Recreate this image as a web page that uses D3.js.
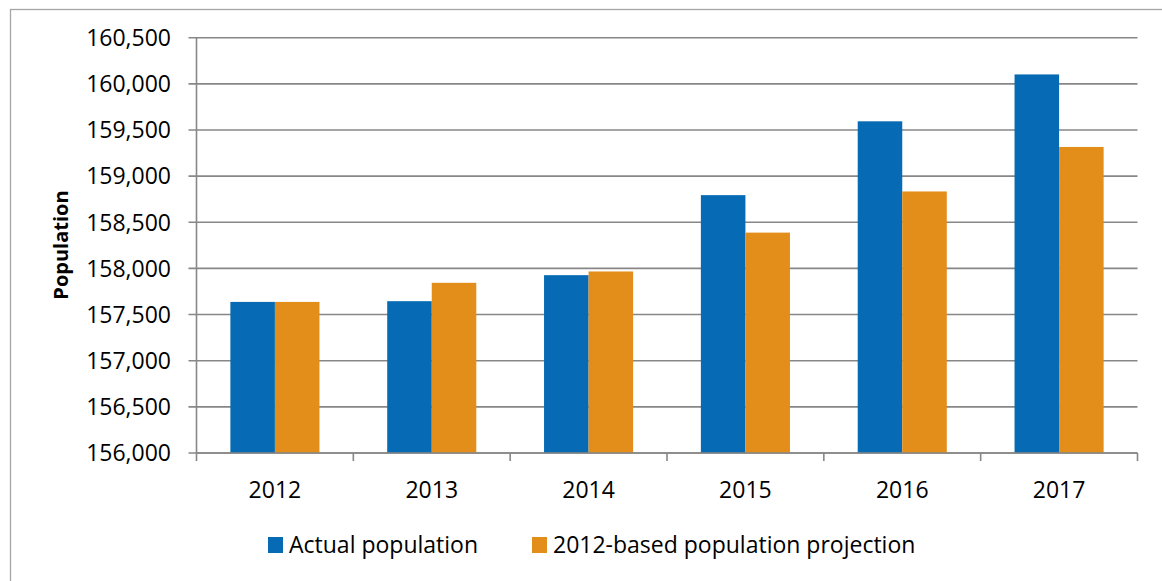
<!DOCTYPE html>
<html>
<head>
<meta charset="utf-8">
<script src="https://cdnjs.cloudflare.com/ajax/libs/d3/7.8.5/d3.min.js"></script>
<style>
	body { margin: 0; background: #fff; }
	svg text { font-family: "Open Sans", sans-serif; fill: #000; }
</style>
</head>
<body>
<div id="chart"></div>
<script>
// data
var years = ["2012", "2013", "2014", "2015", "2016", "2017"];
var actual = [157637, 157645, 157927, 158794, 159594, 160102];
var projection = [157637, 157844, 157967, 158388, 158834, 159316];
var seriesNames = ["Actual population", "2012-based population projection"];
var seriesColors = ["#066bb4", "#e38d1a"];
var yTicks = [156000, 156500, 157000, 157500, 158000, 158500, 159000, 159500, 160000, 160500];

var W = 1162, H = 581;
var plotLeft = 196.5, plotRight = 1137.5, plotTop = 37.7, plotBottom = 453;

var svg = d3.select("#chart").append("svg")
	.attr("width", W)
	.attr("height", H);

// outer frame (only top and left visible)
svg.append("rect")
	.attr("x", 10.5).attr("y", 9.5)
	.attr("width", W + 20).attr("height", H + 20)
	.attr("fill", "none")
	.attr("stroke", "#a6a6a6")
	.attr("stroke-width", 1.3);

var x = d3.scaleBand().domain(years).range([plotLeft, plotRight]).padding(0);
var y = d3.scaleLinear().domain([156000, 160500]).range([plotBottom, plotTop]);

// gridlines
svg.append("g")
	.selectAll("line")
	.data(yTicks)
	.join("line")
	.attr("x1", plotLeft - 8).attr("x2", plotRight)
	.attr("y1", d => y(d)).attr("y2", d => y(d))
	.attr("stroke", "#878787")
	.attr("stroke-width", 1.6);

// y labels
svg.append("g")
	.selectAll("text")
	.data(yTicks)
	.join("text")
	.attr("x", 171)
	.attr("y", d => y(d))
	.attr("dy", "0.36em")
	.attr("text-anchor", "end")
	.style("font-size", "23px")
	.text(d => d3.format(",")(d));

// bars
var barW = x.bandwidth() * 0.284;
var groups = svg.append("g")
	.selectAll("g")
	.data(years)
	.join("g")
	.attr("transform", d => "translate(" + (x(d) + x.bandwidth() / 2) + ",0)");

groups.append("rect")
	.attr("x", -barW)
	.attr("width", barW)
	.attr("y", (d, i) => y(actual[i]))
	.attr("height", (d, i) => plotBottom - y(actual[i]))
	.attr("fill", seriesColors[0]);

groups.append("rect")
	.attr("x", 0)
	.attr("width", barW)
	.attr("y", (d, i) => y(projection[i]))
	.attr("height", (d, i) => plotBottom - y(projection[i]))
	.attr("fill", seriesColors[1]);

// axes lines
svg.append("line")
	.attr("x1", plotLeft).attr("x2", plotLeft)
	.attr("y1", plotTop).attr("y2", plotBottom)
	.attr("stroke", "#878787").attr("stroke-width", 1.6);
svg.append("line")
	.attr("x1", plotLeft).attr("x2", plotRight)
	.attr("y1", plotBottom).attr("y2", plotBottom)
	.attr("stroke", "#878787").attr("stroke-width", 1.6);

// x ticks
var xt = years.map(d => x(d)).concat([plotRight]);
svg.append("g")
	.selectAll("line")
	.data(xt)
	.join("line")
	.attr("x1", d => d).attr("x2", d => d)
	.attr("y1", plotBottom).attr("y2", plotBottom + 8)
	.attr("stroke", "#878787").attr("stroke-width", 1.6);

// x labels
svg.append("g")
	.selectAll("text")
	.data(years)
	.join("text")
	.attr("x", d => x(d) + x.bandwidth() / 2)
	.attr("y", 490)
	.attr("dy", "0.36em")
	.attr("text-anchor", "middle")
	.style("font-size", "23px")
	.text(d => d);

// y title
svg.append("text")
	.attr("transform", "translate(61,245) rotate(-90)")
	.attr("text-anchor", "middle")
	.attr("dy", "0.36em")
	.style("font-size", "20px")
	.style("font-weight", "bold")
	.text("Population");

// legend
var legendX = [268, 532];
var leg = svg.append("g")
	.selectAll("g")
	.data(seriesNames)
	.join("g")
	.attr("transform", (d, i) => "translate(" + legendX[i] + ",545)");
leg.append("rect")
	.attr("x", 0).attr("y", -8)
	.attr("width", 15).attr("height", 16)
	.attr("fill", (d, i) => seriesColors[i]);
leg.append("text")
	.attr("x", 21)
	.attr("dy", "0.36em")
	.style("font-size", "23px")
	.text(d => d);
</script>
</body>
</html>
